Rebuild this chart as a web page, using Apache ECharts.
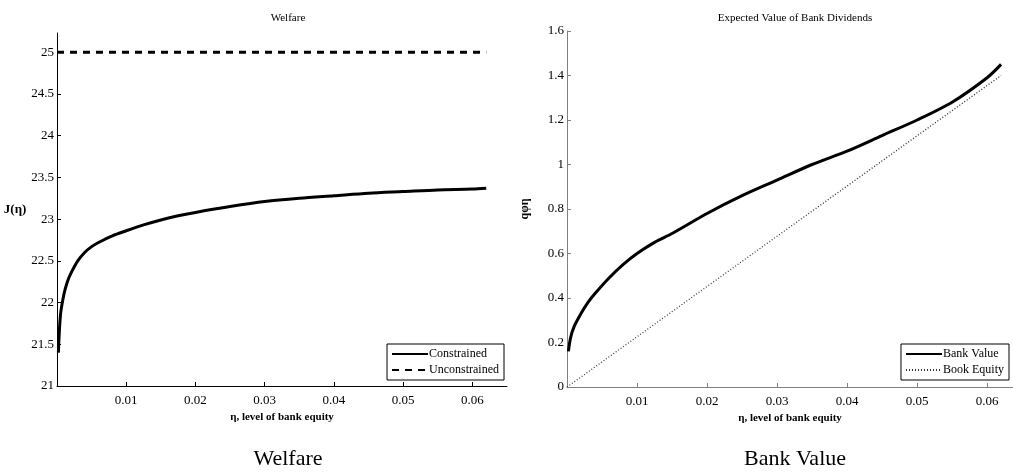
<!DOCTYPE html>
<html><head><meta charset="utf-8">
<script src="https://cdn.jsdelivr.net/npm/echarts@6/dist/echarts.min.js"></script>
<style>html,body{margin:0;padding:0;background:#fff}#c{width:1013px;height:475px}</style>
</head><body><div id="c"></div>
<script>
// Welfare panel
const etaW = [0.0002,0.0005,0.001,0.0015,0.002,0.003,0.004,0.005,0.006,0.008,0.01,0.0125,0.015,0.0175,0.02,0.025,0.03,0.035,0.04,0.045,0.05,0.055,0.06,0.062];
const constrained = [21.4,21.85,22.1,22.25,22.35,22.5,22.6,22.67,22.72,22.8,22.86,22.93,22.99,23.04,23.08,23.15,23.21,23.25,23.28,23.31,23.33,23.35,23.36,23.37];
const etaU = [0, 0.062];
const unconstrained = [25, 25];
// Bank value panel
const etaB = [0.0002,0.0005,0.001,0.002,0.003,0.004,0.006,0.008,0.01,0.0125,0.015,0.02,0.025,0.03,0.035,0.04,0.045,0.05,0.055,0.06,0.062];
const bankValue = [0.16,0.22,0.27,0.33,0.38,0.42,0.49,0.55,0.6,0.65,0.69,0.78,0.86,0.93,1.0,1.06,1.13,1.2,1.28,1.39,1.45];
const etaBE = [0, 0.062];
const bookEquity = [0, 1.4];

const serif = 'Liberation Serif';
const zip = (a,b)=>a.map((v,i)=>[v,b[i]]);
const xLabel = v => (Math.abs(v) < 1e-9 ? '' : (+v.toFixed(2)).toString());

function xAxis(idx, max, color){
  return {gridIndex: idx, type:'value', min:0, max:max, interval:0.01,
    name:'η, level of bank equity', nameLocation:'middle', nameGap:26,
    nameTextStyle:{fontFamily:serif, fontWeight:'bold', fontSize:11, color:'#000'},
    axisLine:{lineStyle:{color:color, width:1}},
    axisTick:{inside:true, length:4, lineStyle:{color:color}},
    axisLabel:{fontFamily:serif, fontSize:13, color:'#000', formatter:xLabel, margin:8, showMaxLabel:false, showMinLabel:false},
    splitLine:{show:false}};
}
function legend(names, right){
  return {data:names, orient:'vertical', right:right, top:344, itemGap:4, itemWidth:36, itemHeight:10,
    borderColor:'#000', borderWidth:1, backgroundColor:'#fff', padding:[4,5,4,4], borderRadius:0,
    itemStyle:{color:'transparent', borderWidth:0, opacity:0},
    textStyle:{fontFamily:serif, fontSize:12, color:'#000', padding:[0,0,0,-4]}};
}

const option = {
  animation:false,
  backgroundColor:'#fff',
  title:[
    {text:'Welfare', left:283, top:8, textAlign:'center', textStyle:{fontFamily:serif, fontSize:11, fontWeight:'normal', color:'#000'}},
    {text:'Expected Value of Bank Dividends', left:790, top:8, textAlign:'center', textStyle:{fontFamily:serif, fontSize:11, fontWeight:'normal', color:'#000'}},
    {text:'Welfare', left:283, top:443, textAlign:'center', textStyle:{fontFamily:serif, fontSize:22, fontWeight:'normal', color:'#000'}},
    {text:'Bank Value', left:790, top:443, textAlign:'center', textStyle:{fontFamily:serif, fontSize:22, fontWeight:'normal', color:'#000'}}
  ],
  grid:[
    {left:57, top:33, right:506, bottom:89},
    {left:567, top:31, right:0, bottom:88}
  ],
  legend:[ legend(['Constrained','Unconstrained'], 509), legend(['Bank Value','Book Equity'], 4) ],
  xAxis:[ xAxis(0, 0.065, '#000'), xAxis(1, 0.0637, '#808080') ],
  yAxis:[
    {gridIndex:0, type:'value', min:21, max:25.23, interval:0.5,
      name:'J(η)', nameLocation:'middle', nameRotate:0, nameGap:13,
      nameTextStyle:{fontFamily:serif, fontWeight:'bold', fontSize:13, color:'#000', align:'right'},
      axisLine:{show:true, lineStyle:{color:'#000'}},
      axisTick:{show:true, inside:true, length:4, lineStyle:{color:'#000'}},
      axisLabel:{fontFamily:serif, fontSize:13, color:'#000', margin:3, showMaxLabel:false},
      splitLine:{show:false}},
    {gridIndex:1, type:'value', min:0, max:1.6, interval:0.2,
      name:'qφη', nameLocation:'middle', nameRotate:90, nameGap:36,
      nameTextStyle:{fontFamily:serif, fontWeight:'bold', fontSize:12, color:'#000'},
      axisLine:{show:true, lineStyle:{color:'#808080'}},
      axisTick:{show:true, inside:true, length:4, lineStyle:{color:'#808080'}},
      axisLabel:{fontFamily:serif, fontSize:13, color:'#000', margin:3},
      splitLine:{show:false}}
  ],
  series:[
    {name:'Constrained', type:'line', xAxisIndex:0, yAxisIndex:0, data:zip(etaW,constrained), smooth:0.3, showSymbol:false, symbol:'none',
      lineStyle:{color:'#000', width:3}, itemStyle:{color:'#000'}},
    {name:'Unconstrained', type:'line', xAxisIndex:0, yAxisIndex:0, data:zip(etaU,unconstrained), showSymbol:false, symbol:'none',
      lineStyle:{color:'#000', width:3, type:[7,6]}, itemStyle:{color:'#000'}},
    {name:'Bank Value', type:'line', xAxisIndex:1, yAxisIndex:1, data:zip(etaB,bankValue), smooth:0.3, showSymbol:false, symbol:'none',
      lineStyle:{color:'#000', width:3}, itemStyle:{color:'#000'}},
    {name:'Book Equity', type:'line', xAxisIndex:1, yAxisIndex:1, data:zip(etaBE,bookEquity), showSymbol:false, symbol:'none',
      lineStyle:{color:'#333', width:1.3, type:[1,2]}, itemStyle:{color:'#000'}}
  ]
};
const chart = echarts.init(document.getElementById('c'), null, {renderer:'canvas'});
chart.setOption(option);
</script>
</body></html>
